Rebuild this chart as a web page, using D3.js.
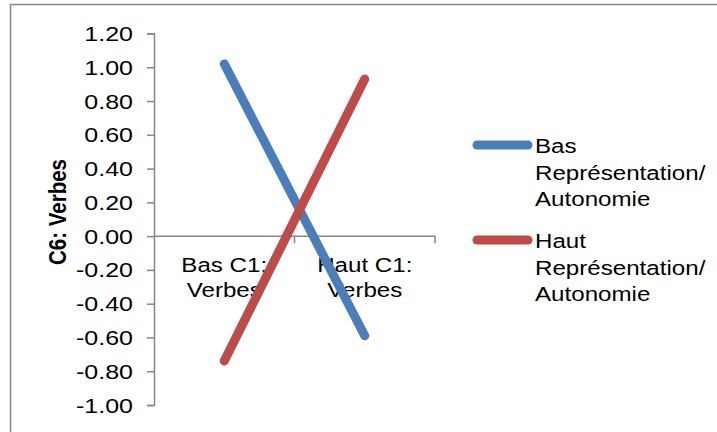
<!DOCTYPE html>
<html>
<head>
<meta charset="utf-8">
<script src="https://cdn.jsdelivr.net/npm/d3@7"></script>
<style>
  html, body { margin: 0; padding: 0; background: #fff; }
  svg { display: block; font-family: "Liberation Sans", Arial, sans-serif; }
</style>
</head>
<body>
<svg id="chart" width="717" height="432"></svg>
<script>
// ---- data ----
const categories = [["Bas C1:", "Verbes"], ["Haut C1:", "Verbes"]];
const seriesNames = [["Bas", "Représentation/", "Autonomie"], ["Haut", "Représentation/", "Autonomie"]];
const seriesBas = [1.02, -0.59];
const seriesHaut = [-0.74, 0.93];
const seriesColors = ["#4A7EBB", "#BE4B48"];
const yTickValues = [-1.0, -0.8, -0.6, -0.4, -0.2, 0.0, 0.2, 0.4, 0.6, 0.8, 1.0, 1.2];
const yAxisTitle = "C6: Verbes";

const series = [seriesBas, seriesHaut];
const svg = d3.select("#chart");
const axisColor = "#868686";
const stretch = 1.2;

// outer border
svg.append("rect")
  .attr("x", 10.5).attr("y", 4.5)
  .attr("width", 720).attr("height", 440)
  .attr("fill", "none").attr("stroke", axisColor).attr("stroke-width", 1.5);

const y = d3.scaleLinear().domain([-1.0, 1.2]).range([405, 33.5]);
const x = d3.scaleBand().domain(d3.range(categories.length)).range([154, 435]);

// y axis
const yAxis = d3.axisLeft(y).tickValues(yTickValues).tickSize(7).tickFormat(d => d.toFixed(2));
const gy = svg.append("g").attr("transform", "translate(154,0)").call(yAxis);
gy.select(".domain").attr("stroke", axisColor).attr("stroke-width", 1.5);
gy.selectAll(".tick line").attr("stroke", axisColor).attr("stroke-width", 1.5);
gy.selectAll(".tick text").remove();
gy.selectAll(".tick").append("text")
  .attr("transform", `translate(-21,7) scale(${stretch + 0.05},1)`)
  .attr("text-anchor", "end")
  .attr("fill", "#000")
  .style("font-size", "20px")
  .text(d => d.toFixed(2));

// x axis at y=0
const y0 = y(0);
svg.append("line")
  .attr("x1", 154).attr("x2", 435.5).attr("y1", y0).attr("y2", y0)
  .attr("stroke", axisColor).attr("stroke-width", 1.5);
const bounds = [x(1), x(1) + x.bandwidth()];
svg.selectAll(".xtick").data(bounds).enter().append("line")
  .attr("x1", d => d).attr("x2", d => d)
  .attr("y1", y0).attr("y2", y0 + 7)
  .attr("stroke", axisColor).attr("stroke-width", 1.5);

// category labels
categories.forEach((lines, i) => {
  const cx = x(i) + x.bandwidth() / 2;
  lines.forEach((t, j) => {
    svg.append("text")
      .attr("transform", `translate(${cx},${272 + j * 25}) scale(${stretch - 0.05},1)`)
      .attr("text-anchor", "middle")
      .style("font-size", "21px")
      .attr("fill", "#000")
      .text(t);
  });
});

// lines
const line = d3.line().x((d, i) => x(i) + x.bandwidth() / 2).y(d => y(d));
series.forEach((s, k) => {
  svg.append("path")
    .datum(s)
    .attr("d", line)
    .attr("fill", "none")
    .attr("stroke", seriesColors[k])
    .attr("stroke-width", 9)
    .attr("stroke-linecap", "round");
});

// y axis title
svg.append("text")
  .attr("transform", `translate(66,212) scale(${stretch},1) rotate(-90)`)
  .attr("text-anchor", "middle")
  .style("font-size", "20.5px")
  .style("font-weight", "bold")
  .attr("fill", "#000")
  .text(yAxisTitle);

// legend
const legendY = [145, 240];
seriesNames.forEach((lines, k) => {
  svg.append("line")
    .attr("x1", 477).attr("x2", 528)
    .attr("y1", legendY[k]).attr("y2", legendY[k])
    .attr("stroke", seriesColors[k])
    .attr("stroke-width", 9)
    .attr("stroke-linecap", "round");
  lines.forEach((t, j) => {
    svg.append("text")
      .attr("transform", `translate(535,${legendY[k] + 8 + j * 26.5}) scale(${stretch - 0.05},1)`)
      .style("font-size", "21px")
      .attr("fill", "#000")
      .text(t);
  });
});
</script>
</body>
</html>
